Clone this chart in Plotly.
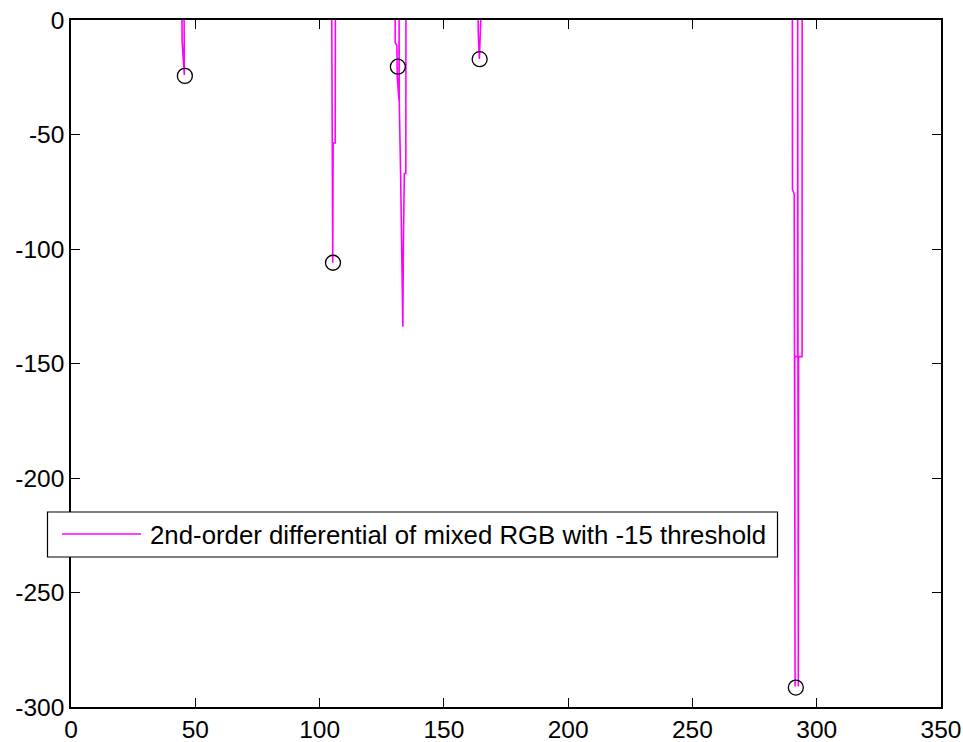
import plotly.graph_objects as go

# ---- data ----
# 2nd-order differential (thresholded) traced as one polyline, spike by spike
spike1_x = [44.65, 44.7, 45.6, 45.45, 45.5]
spike1_y = [0, -9, -24, -4, 0]
spike2_x = [104.9, 104.95, 105.3, 105.45, 106.3, 106.35]
spike2_y = [0, -53.7, -106, -53.7, -53.7, 0]
spike3_x = [130.4, 130.45, 131.1, 131.25, 131.95, 132.0, 132.05, 132.6, 133.1, 133.5, 133.7, 134.1, 134.7, 134.75]
spike3_y = [0, -10, -11, -25, -35, 0, -35, -67, -100, -134, -100, -67, -67, 0]
spike4_x = [163.8, 163.85, 164.3, 164.5, 164.8, 164.85]
spike4_y = [0, -5.8, -17, -5.8, -5.8, 0]
spike5_x = [290.2, 290.25, 290.95, 291.1, 291.3, 291.15, 292.3, 292.35, 292.45, 292.6, 292.7, 294.1, 294.15]
spike5_y = [0, -74, -76, -219, -291, -147, -147, 0, -147, -291, -147, -147, 0]

# detected minima (black circles)
peak_x = [45.8, 105.4, 131.5, 164.4, 291.6]
peak_y = [-24.4, -106.0, -20.4, -17.1, -291.5]

xtick_vals = [0, 50, 100, 150, 200, 250, 300, 350]
ytick_vals = [0, -50, -100, -150, -200, -250, -300]

legend_label = "2nd-order differential of mixed RGB with -15 threshold"

# the flat zero stretches lie on the top border; only the spikes are drawn
spikes_x = [spike1_x, spike2_x, spike3_x, spike4_x, spike5_x]
spikes_y = [spike1_y, spike2_y, spike3_y, spike4_y, spike5_y]
line_x, line_y = [], []
for sx, sy in zip(spikes_x, spikes_y):
    line_x += sx + [None]
    line_y += sy + [None]

FONT = "Liberation Sans, Arial, Helvetica, sans-serif"
TICK_SIZE = 24.5
LEG_SIZE = 25.8

fig = go.Figure()
fig.add_trace(go.Scatter(
    x=line_x, y=line_y, mode="lines", name=legend_label, connectgaps=False,
    line=dict(color="#FF00FF", width=1.6), showlegend=False,
))
fig.add_trace(go.Scatter(
    x=peak_x, y=peak_y, mode="markers", showlegend=False,
    marker=dict(symbol="circle-open", size=15, color="black", line=dict(width=1.3)),
))

axis_common = dict(
    showgrid=False, zeroline=False, showline=True, linecolor="black", linewidth=1.5,
    mirror="ticks", ticks="inside", ticklen=9, tickcolor="black", tickwidth=1,
    tickfont=dict(family=FONT, size=TICK_SIZE, color="black"), automargin=False,
)
fig.update_xaxes(range=[0, 350], tickvals=xtick_vals, ticktext=[str(v) for v in xtick_vals],
                 ticklabelshift=0, **axis_common)
fig.update_yaxes(range=[-300, 0], tickvals=ytick_vals, ticktext=[str(v) for v in ytick_vals],
                 ticklabelstandoff=0, **axis_common)

# manual legend box (paper coords)
L, R, T, B = 71, 22, 20, 35
W, H = 963, 742
pw, ph = W - L - R, H - T - B
def px(x):
    return (x - L) / pw
def py(y):
    return (H - B - y) / ph

fig.add_shape(type="rect", xref="paper", yref="paper",
              x0=px(47.5), x1=px(777.5), y0=py(557), y1=py(512),
              line=dict(color="black", width=1.2), fillcolor="white", layer="above")
fig.add_shape(type="line", xref="paper", yref="paper",
              x0=px(62), x1=px(141), y0=py(534), y1=py(534),
              line=dict(color="#FF00FF", width=1.6), layer="above")
fig.add_annotation(xref="paper", yref="paper", x=px(148), y=py(535),
                   xanchor="left", yanchor="middle", showarrow=False,
                   text=legend_label, font=dict(family=FONT, size=LEG_SIZE, color="black"))

fig.update_layout(
    width=W, height=H, margin=dict(l=L, r=R, t=T, b=B),
    paper_bgcolor="white", plot_bgcolor="white",
)
fig.write_html("out.html")
